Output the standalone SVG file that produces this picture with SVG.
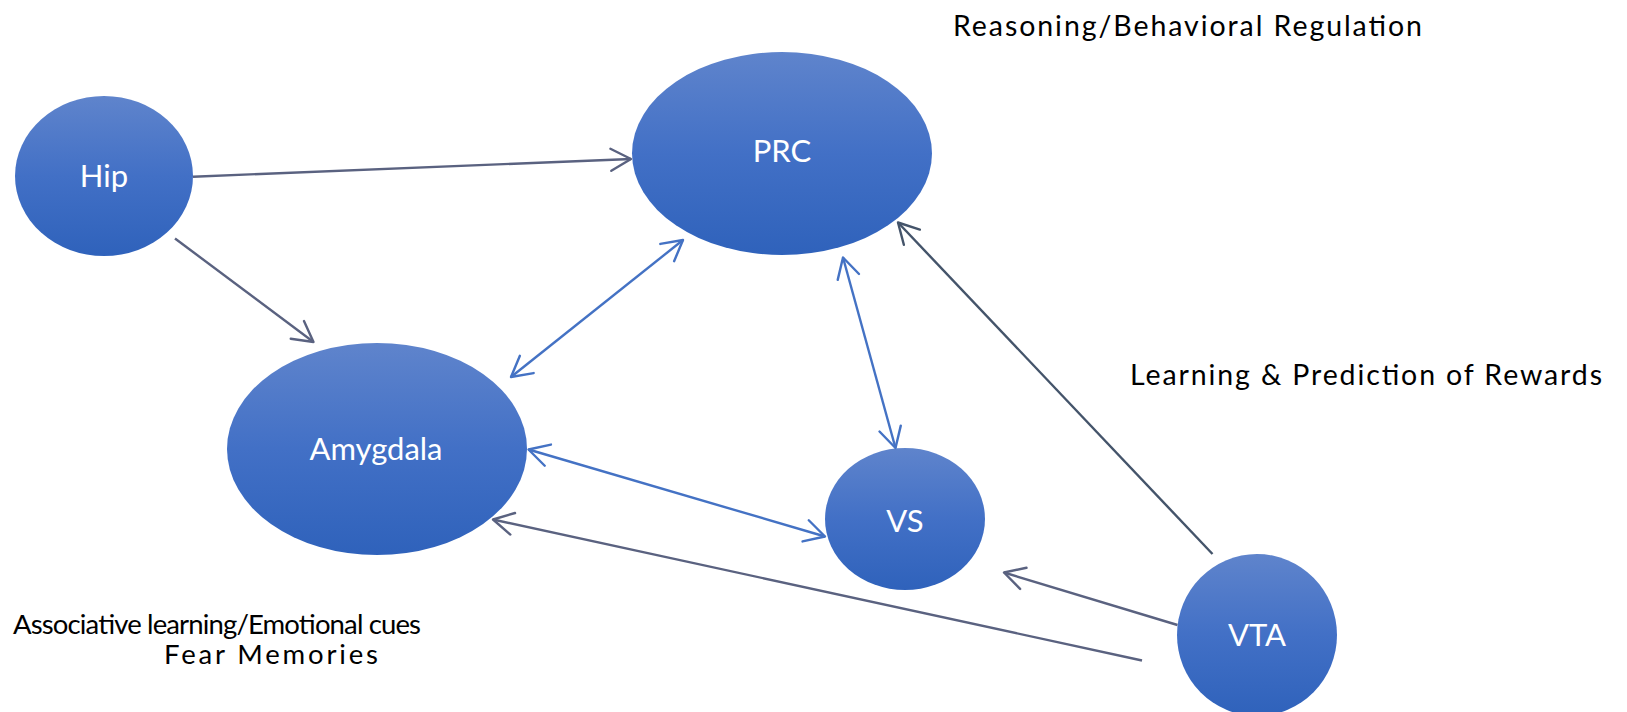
<svg xmlns="http://www.w3.org/2000/svg" width="1627" height="712" viewBox="0 0 1627 712">
<style>
.node{fill:url(#g);stroke:none}
.nl{font-family:Lato,"Open Sans",sans-serif;font-size:31px;fill:#ffffff;text-anchor:middle}
.lb{font-family:Lato,"Open Sans",sans-serif;font-size:28.5px;fill:#000000}
.gray{stroke:#5A6280;stroke-width:2.4;fill:none}
.dark{stroke:#44546A;stroke-width:2.4;fill:none}
.blue{stroke:#4472C4;stroke-width:2.4;fill:none}
</style>
<defs>
<linearGradient id="g" x1="0" y1="0" x2="0" y2="1">
<stop offset="0" stop-color="#5F84CC"/>
<stop offset="0.5" stop-color="#4270C6"/>
<stop offset="1" stop-color="#2F62BB"/>
</linearGradient>
<marker id="ag" viewBox="-12 -7 14 14" markerWidth="14" markerHeight="14" refX="0" refY="0" orient="auto-start-reverse" markerUnits="strokeWidth">
<path d="M -8.4 -4.6 L 0 0 L -8.4 4.6" fill="none" stroke="#5A6280" stroke-width="1" stroke-linecap="round" stroke-linejoin="round"/>
</marker>
<marker id="ad" viewBox="-12 -7 14 14" markerWidth="14" markerHeight="14" refX="0" refY="0" orient="auto-start-reverse" markerUnits="strokeWidth">
<path d="M -8.4 -4.6 L 0 0 L -8.4 4.6" fill="none" stroke="#44546A" stroke-width="1" stroke-linecap="round" stroke-linejoin="round"/>
</marker>
<marker id="ab" viewBox="-12 -7 14 14" markerWidth="14" markerHeight="14" refX="0" refY="0" orient="auto-start-reverse" markerUnits="strokeWidth">
<path d="M -8.4 -4.6 L 0 0 L -8.4 4.6" fill="none" stroke="#4472C4" stroke-width="1" stroke-linecap="round" stroke-linejoin="round"/>
</marker>
</defs>
<rect width="1627" height="712" fill="#ffffff"/>
<g id="hip">
<ellipse class="node" cx="104" cy="176" rx="89" ry="80"/>
<text class="nl" x="104" y="187">Hip</text>
</g>
<g id="prc">
<ellipse class="node" cx="782" cy="153.5" rx="150" ry="101.5"/>
<text class="nl" x="782" y="162">PRC</text>
</g>
<g id="amygdala">
<ellipse class="node" cx="377" cy="449" rx="150" ry="106"/>
<text class="nl" x="376" y="460">Amygdala</text>
</g>
<g id="vs">
<ellipse class="node" cx="905" cy="519" rx="80" ry="71"/>
<text class="nl" x="905" y="532">VS</text>
</g>
<g id="vta">
<ellipse class="node" cx="1257" cy="635" rx="80" ry="81"/>
<text class="nl" x="1257" y="646">VTA</text>
</g>
<g id="connectors">
<line class="gray" x1="193" y1="176.7" x2="631" y2="159" marker-end="url(#ag)"/>
<line class="gray" x1="175" y1="238.5" x2="313.5" y2="342" marker-end="url(#ag)"/>
<line class="blue" x1="683" y1="240" x2="511" y2="377" marker-start="url(#ab)" marker-end="url(#ab)"/>
<line class="blue" x1="843" y1="257.5" x2="895.5" y2="448" marker-start="url(#ab)" marker-end="url(#ab)"/>
<line class="blue" x1="528.5" y1="449.5" x2="825" y2="536.5" marker-start="url(#ab)" marker-end="url(#ab)"/>
<line class="dark" x1="1212.5" y1="554" x2="898" y2="222.5" marker-end="url(#ad)"/>
<line class="gray" x1="1177.5" y1="625" x2="1004" y2="572.5" marker-end="url(#ag)"/>
<line class="gray" x1="1142" y1="660.5" x2="493" y2="519.5" marker-end="url(#ag)"/>
</g>
<g id="labels">
<text class="lb" x="953" y="36" textLength="469" lengthAdjust="spacing">Reasoning/Behavioral Regulation</text>
<text class="lb" x="1130" y="385" textLength="472" lengthAdjust="spacing">Learning &amp; Prediction of Rewards</text>
<text class="lb" style="font-size:27.5px"><tspan x="13" y="634" textLength="408" lengthAdjust="spacing">Associative learning/Emotional cues</tspan><tspan x="164" y="664" textLength="214" lengthAdjust="spacing">Fear Memories</tspan></text>
</g>
</svg>
